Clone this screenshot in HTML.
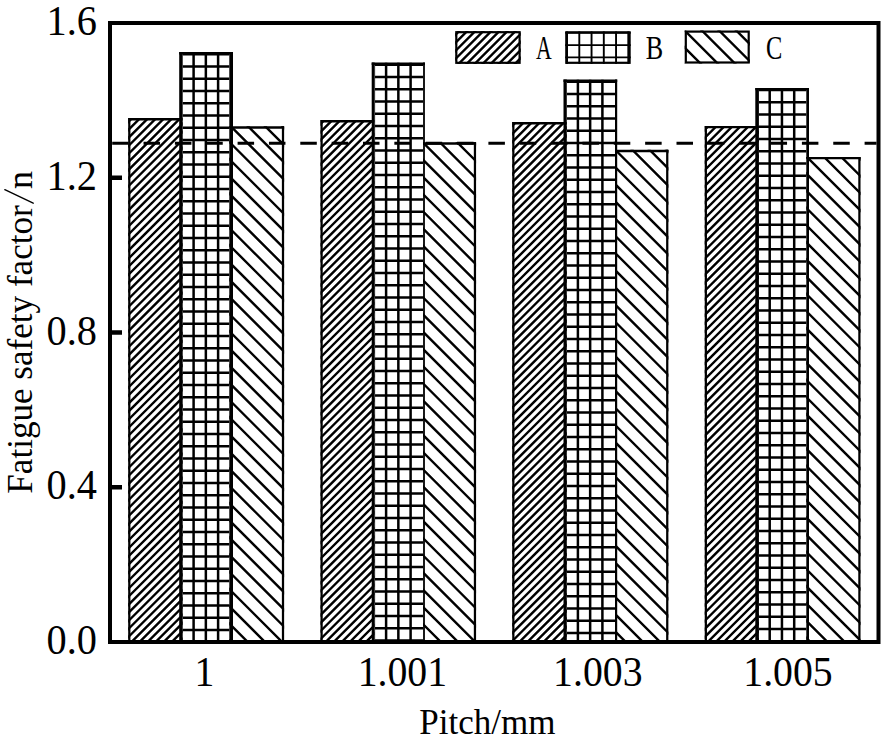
<!DOCTYPE html>
<html><head><meta charset="utf-8"><style>
html,body{margin:0;padding:0;background:#fff;}
body{width:887px;height:740px;overflow:hidden;font-family:"Liberation Serif",serif;}
svg{display:block;}
</style></head><body>
<svg width="887" height="740" viewBox="0 0 887 740">
<rect x="0" y="0" width="887" height="740" fill="#fff"/>
<clipPath id="c0"><rect x="128.18" y="118.10" width="54.42" height="523.90"/></clipPath>
<path clip-path="url(#c0)" d="M-409.88 644.00L118.02 116.10M-401.83 644.00L126.07 116.10M-393.78 644.00L134.12 116.10M-385.73 644.00L142.17 116.10M-377.68 644.00L150.22 116.10M-369.62 644.00L158.28 116.10M-361.58 644.00L166.32 116.10M-353.53 644.00L174.37 116.10M-345.48 644.00L182.42 116.10M-337.43 644.00L190.47 116.10M-329.38 644.00L198.53 116.10M-321.33 644.00L206.57 116.10M-313.28 644.00L214.62 116.10M-305.23 644.00L222.67 116.10M-297.18 644.00L230.72 116.10M-289.12 644.00L238.78 116.10M-281.08 644.00L246.82 116.10M-273.02 644.00L254.88 116.10M-264.98 644.00L262.92 116.10M-256.93 644.00L270.98 116.10M-248.88 644.00L279.02 116.10M-240.83 644.00L287.07 116.10M-232.77 644.00L295.12 116.10M-224.73 644.00L303.17 116.10M-216.68 644.00L311.23 116.10M-208.62 644.00L319.27 116.10M-200.58 644.00L327.32 116.10M-192.52 644.00L335.38 116.10M-184.48 644.00L343.42 116.10M-176.43 644.00L351.48 116.10M-168.38 644.00L359.52 116.10M-160.32 644.00L367.58 116.10M-152.27 644.00L375.62 116.10M-144.23 644.00L383.67 116.10M-136.18 644.00L391.73 116.10M-128.12 644.00L399.77 116.10M-120.08 644.00L407.82 116.10M-112.02 644.00L415.88 116.10M-103.98 644.00L423.92 116.10M-95.92 644.00L431.98 116.10M-87.88 644.00L440.02 116.10M-79.83 644.00L448.07 116.10M-71.77 644.00L456.12 116.10M-63.73 644.00L464.17 116.10M-55.67 644.00L472.23 116.10M-47.62 644.00L480.27 116.10M-39.58 644.00L488.32 116.10M-31.52 644.00L496.38 116.10M-23.47 644.00L504.43 116.10M-15.42 644.00L512.48 116.10M-7.38 644.00L520.52 116.10M0.67 644.00L528.57 116.10M8.73 644.00L536.62 116.10M16.78 644.00L544.68 116.10M24.83 644.00L552.73 116.10M32.88 644.00L560.77 116.10M40.92 644.00L568.82 116.10M48.98 644.00L576.88 116.10M57.03 644.00L584.93 116.10M65.08 644.00L592.98 116.10M73.12 644.00L601.02 116.10M81.17 644.00L609.07 116.10M89.23 644.00L617.12 116.10M97.28 644.00L625.18 116.10M105.33 644.00L633.23 116.10M113.38 644.00L641.27 116.10M121.42 644.00L649.32 116.10M129.48 644.00L657.38 116.10M137.52 644.00L665.42 116.10M145.58 644.00L673.48 116.10M153.62 644.00L681.52 116.10M161.68 644.00L689.58 116.10M169.73 644.00L697.62 116.10M177.77 644.00L705.67 116.10M185.83 644.00L713.73 116.10" stroke="#000" stroke-width="2.40" fill="none"/>
<path d="M128.18 119.32H182.60" stroke="#000" stroke-width="2.45"/>
<clipPath id="c1"><rect x="182.60" y="52.00" width="46.70" height="590.00"/></clipPath>
<path clip-path="url(#c1)" d="M181.35 52.00V642.00M193.60 52.00V642.00M205.85 52.00V642.00M218.10 52.00V642.00M180.60 54.15H231.30M180.60 66.40H231.30M180.60 78.65H231.30M180.60 90.90H231.30M180.60 103.15H231.30M180.60 115.40H231.30M180.60 127.65H231.30M180.60 139.90H231.30M180.60 152.15H231.30M180.60 164.40H231.30M180.60 176.65H231.30M180.60 188.90H231.30M180.60 201.15H231.30M180.60 213.40H231.30M180.60 225.65H231.30M180.60 237.90H231.30M180.60 250.15H231.30M180.60 262.40H231.30M180.60 274.65H231.30M180.60 286.90H231.30M180.60 299.15H231.30M180.60 311.40H231.30M180.60 323.65H231.30M180.60 335.90H231.30M180.60 348.15H231.30M180.60 360.40H231.30M180.60 372.65H231.30M180.60 384.90H231.30M180.60 397.15H231.30M180.60 409.40H231.30M180.60 421.65H231.30M180.60 433.90H231.30M180.60 446.15H231.30M180.60 458.40H231.30M180.60 470.65H231.30M180.60 482.90H231.30M180.60 495.15H231.30M180.60 507.40H231.30M180.60 519.65H231.30M180.60 531.90H231.30M180.60 544.15H231.30M180.60 556.40H231.30M180.60 568.65H231.30M180.60 580.90H231.30M180.60 593.15H231.30M180.60 605.40H231.30M180.60 617.65H231.30M180.60 629.90H231.30M180.60 642.15H231.30" stroke="#000" stroke-width="2.50" fill="none"/>
<path d="M179.20 53.23H233.00" stroke="#000" stroke-width="2.45"/>
<clipPath id="c2"><rect x="229.30" y="126.30" width="54.82" height="515.70"/></clipPath>
<path clip-path="url(#c2)" d="M-321.55 124.30L198.15 644.00M-304.35 124.30L215.35 644.00M-287.15 124.30L232.55 644.00M-269.95 124.30L249.75 644.00M-252.75 124.30L266.95 644.00M-235.55 124.30L284.15 644.00M-218.35 124.30L301.35 644.00M-201.15 124.30L318.55 644.00M-183.95 124.30L335.75 644.00M-166.75 124.30L352.95 644.00M-149.55 124.30L370.15 644.00M-132.35 124.30L387.35 644.00M-115.15 124.30L404.55 644.00M-97.95 124.30L421.75 644.00M-80.75 124.30L438.95 644.00M-63.55 124.30L456.15 644.00M-46.35 124.30L473.35 644.00M-29.15 124.30L490.55 644.00M-11.95 124.30L507.75 644.00M5.25 124.30L524.95 644.00M22.45 124.30L542.15 644.00M39.65 124.30L559.35 644.00M56.85 124.30L576.55 644.00M74.05 124.30L593.75 644.00M91.25 124.30L610.95 644.00M108.45 124.30L628.15 644.00M125.65 124.30L645.35 644.00M142.85 124.30L662.55 644.00M160.05 124.30L679.75 644.00M177.25 124.30L696.95 644.00M194.45 124.30L714.15 644.00M211.65 124.30L731.35 644.00M228.85 124.30L748.55 644.00M246.05 124.30L765.75 644.00M263.25 124.30L782.95 644.00M280.45 124.30L800.15 644.00M297.65 124.30L817.35 644.00" stroke="#000" stroke-width="2.40" fill="none"/>
<path d="M229.30 127.52H284.12" stroke="#000" stroke-width="2.45"/>
<path d="M129.30 118.10V642.00" stroke="#000" stroke-width="2.25"/>
<path d="M180.90 52.00V642.00" stroke="#000" stroke-width="3.40"/>
<path d="M231.15 52.00V642.00" stroke="#000" stroke-width="3.70"/>
<path d="M283.00 126.30V642.00" stroke="#000" stroke-width="2.25"/>
<clipPath id="c3"><rect x="320.48" y="120.00" width="53.93" height="522.00"/></clipPath>
<path clip-path="url(#c3)" d="M-215.67 644.00L310.33 118.00M-207.62 644.00L318.38 118.00M-199.57 644.00L326.43 118.00M-191.52 644.00L334.48 118.00M-183.47 644.00L342.53 118.00M-175.42 644.00L350.58 118.00M-167.38 644.00L358.62 118.00M-159.32 644.00L366.68 118.00M-151.27 644.00L374.73 118.00M-143.22 644.00L382.78 118.00M-135.17 644.00L390.83 118.00M-127.12 644.00L398.88 118.00M-119.07 644.00L406.93 118.00M-111.02 644.00L414.98 118.00M-102.97 644.00L423.03 118.00M-94.92 644.00L431.08 118.00M-86.88 644.00L439.12 118.00M-78.82 644.00L447.18 118.00M-70.77 644.00L455.23 118.00M-62.72 644.00L463.28 118.00M-54.67 644.00L471.33 118.00M-46.62 644.00L479.38 118.00M-38.57 644.00L487.43 118.00M-30.52 644.00L495.48 118.00M-22.47 644.00L503.53 118.00M-14.42 644.00L511.58 118.00M-6.38 644.00L519.62 118.00M1.68 644.00L527.68 118.00M9.73 644.00L535.73 118.00M17.78 644.00L543.78 118.00M25.83 644.00L551.83 118.00M33.88 644.00L559.88 118.00M41.93 644.00L567.93 118.00M49.98 644.00L575.98 118.00M58.03 644.00L584.03 118.00M66.08 644.00L592.08 118.00M74.12 644.00L600.12 118.00M82.18 644.00L608.18 118.00M90.23 644.00L616.23 118.00M98.28 644.00L624.28 118.00M106.33 644.00L632.33 118.00M114.38 644.00L640.38 118.00M122.43 644.00L648.43 118.00M130.48 644.00L656.48 118.00M138.53 644.00L664.53 118.00M146.58 644.00L672.58 118.00M154.62 644.00L680.62 118.00M162.68 644.00L688.68 118.00M170.73 644.00L696.73 118.00M178.78 644.00L704.78 118.00M186.83 644.00L712.83 118.00M194.88 644.00L720.88 118.00M202.93 644.00L728.93 118.00M210.98 644.00L736.98 118.00M219.03 644.00L745.03 118.00M227.08 644.00L753.08 118.00M235.12 644.00L761.12 118.00M243.18 644.00L769.18 118.00M251.23 644.00L777.23 118.00M259.28 644.00L785.28 118.00M267.33 644.00L793.33 118.00M275.38 644.00L801.38 118.00M283.43 644.00L809.43 118.00M291.48 644.00L817.48 118.00M299.53 644.00L825.53 118.00M307.58 644.00L833.58 118.00M315.62 644.00L841.62 118.00M323.68 644.00L849.68 118.00M331.73 644.00L857.73 118.00M339.78 644.00L865.78 118.00M347.83 644.00L873.83 118.00M355.88 644.00L881.88 118.00M363.93 644.00L889.93 118.00M371.98 644.00L897.98 118.00M380.03 644.00L906.03 118.00" stroke="#000" stroke-width="2.40" fill="none"/>
<path d="M320.48 121.22H374.40" stroke="#000" stroke-width="2.45"/>
<clipPath id="c4"><rect x="374.40" y="62.50" width="48.70" height="579.50"/></clipPath>
<path clip-path="url(#c4)" d="M373.85 62.50V642.00M386.10 62.50V642.00M398.35 62.50V642.00M410.60 62.50V642.00M372.40 64.65H425.10M372.40 76.90H425.10M372.40 89.15H425.10M372.40 101.40H425.10M372.40 113.65H425.10M372.40 125.90H425.10M372.40 138.15H425.10M372.40 150.40H425.10M372.40 162.65H425.10M372.40 174.90H425.10M372.40 187.15H425.10M372.40 199.40H425.10M372.40 211.65H425.10M372.40 223.90H425.10M372.40 236.15H425.10M372.40 248.40H425.10M372.40 260.65H425.10M372.40 272.90H425.10M372.40 285.15H425.10M372.40 297.40H425.10M372.40 309.65H425.10M372.40 321.90H425.10M372.40 334.15H425.10M372.40 346.40H425.10M372.40 358.65H425.10M372.40 370.90H425.10M372.40 383.15H425.10M372.40 395.40H425.10M372.40 407.65H425.10M372.40 419.90H425.10M372.40 432.15H425.10M372.40 444.40H425.10M372.40 456.65H425.10M372.40 468.90H425.10M372.40 481.15H425.10M372.40 493.40H425.10M372.40 505.65H425.10M372.40 517.90H425.10M372.40 530.15H425.10M372.40 542.40H425.10M372.40 554.65H425.10M372.40 566.90H425.10M372.40 579.15H425.10M372.40 591.40H425.10M372.40 603.65H425.10M372.40 615.90H425.10M372.40 628.15H425.10M372.40 640.40H425.10" stroke="#000" stroke-width="2.50" fill="none"/>
<path d="M371.70 63.73H424.90" stroke="#000" stroke-width="2.45"/>
<clipPath id="c5"><rect x="423.10" y="142.30" width="52.97" height="499.70"/></clipPath>
<path clip-path="url(#c5)" d="M-112.45 140.30L391.25 644.00M-95.25 140.30L408.45 644.00M-78.05 140.30L425.65 644.00M-60.85 140.30L442.85 644.00M-43.65 140.30L460.05 644.00M-26.45 140.30L477.25 644.00M-9.25 140.30L494.45 644.00M7.95 140.30L511.65 644.00M25.15 140.30L528.85 644.00M42.35 140.30L546.05 644.00M59.55 140.30L563.25 644.00M76.75 140.30L580.45 644.00M93.95 140.30L597.65 644.00M111.15 140.30L614.85 644.00M128.35 140.30L632.05 644.00M145.55 140.30L649.25 644.00M162.75 140.30L666.45 644.00M179.95 140.30L683.65 644.00M197.15 140.30L700.85 644.00M214.35 140.30L718.05 644.00M231.55 140.30L735.25 644.00M248.75 140.30L752.45 644.00M265.95 140.30L769.65 644.00M283.15 140.30L786.85 644.00M300.35 140.30L804.05 644.00M317.55 140.30L821.25 644.00M334.75 140.30L838.45 644.00M351.95 140.30L855.65 644.00M369.15 140.30L872.85 644.00M386.35 140.30L890.05 644.00M403.55 140.30L907.25 644.00M420.75 140.30L924.45 644.00M437.95 140.30L941.65 644.00M455.15 140.30L958.85 644.00M472.35 140.30L976.05 644.00M489.55 140.30L993.25 644.00" stroke="#000" stroke-width="2.40" fill="none"/>
<path d="M423.10 143.53H476.07" stroke="#000" stroke-width="2.45"/>
<path d="M321.60 120.00V642.00" stroke="#000" stroke-width="2.25"/>
<path d="M373.05 62.50V642.00" stroke="#000" stroke-width="2.70"/>
<path d="M424.00 62.50V642.00" stroke="#000" stroke-width="1.80"/>
<path d="M474.95 142.30V642.00" stroke="#000" stroke-width="2.25"/>
<clipPath id="c6"><rect x="512.23" y="121.95" width="54.48" height="520.05"/></clipPath>
<path clip-path="url(#c6)" d="M-21.97 644.00L502.08 119.95M-13.92 644.00L510.13 119.95M-5.87 644.00L518.18 119.95M2.18 644.00L526.23 119.95M10.23 644.00L534.27 119.95M18.28 644.00L542.33 119.95M26.33 644.00L550.38 119.95M34.38 644.00L558.43 119.95M42.43 644.00L566.48 119.95M50.48 644.00L574.52 119.95M58.53 644.00L582.58 119.95M66.58 644.00L590.62 119.95M74.63 644.00L598.68 119.95M82.68 644.00L606.73 119.95M90.73 644.00L614.78 119.95M98.78 644.00L622.83 119.95M106.83 644.00L630.88 119.95M114.88 644.00L638.93 119.95M122.93 644.00L646.98 119.95M130.98 644.00L655.03 119.95M139.03 644.00L663.08 119.95M147.08 644.00L671.12 119.95M155.13 644.00L679.18 119.95M163.18 644.00L687.23 119.95M171.23 644.00L695.28 119.95M179.28 644.00L703.33 119.95M187.33 644.00L711.38 119.95M195.38 644.00L719.43 119.95M203.43 644.00L727.48 119.95M211.48 644.00L735.53 119.95M219.53 644.00L743.58 119.95M227.58 644.00L751.62 119.95M235.63 644.00L759.68 119.95M243.68 644.00L767.73 119.95M251.73 644.00L775.78 119.95M259.78 644.00L783.83 119.95M267.83 644.00L791.88 119.95M275.88 644.00L799.93 119.95M283.93 644.00L807.98 119.95M291.98 644.00L816.03 119.95M300.03 644.00L824.08 119.95M308.08 644.00L832.12 119.95M316.13 644.00L840.18 119.95M324.18 644.00L848.23 119.95M332.23 644.00L856.28 119.95M340.28 644.00L864.33 119.95M348.33 644.00L872.38 119.95M356.38 644.00L880.43 119.95M364.43 644.00L888.48 119.95M372.48 644.00L896.53 119.95M380.53 644.00L904.58 119.95M388.58 644.00L912.62 119.95M396.62 644.00L920.67 119.95M404.68 644.00L928.73 119.95M412.73 644.00L936.78 119.95M420.78 644.00L944.83 119.95M428.83 644.00L952.88 119.95M436.88 644.00L960.92 119.95M444.93 644.00L968.98 119.95M452.98 644.00L977.03 119.95M461.03 644.00L985.08 119.95M469.08 644.00L993.12 119.95M477.12 644.00L1001.17 119.95M485.18 644.00L1009.23 119.95M493.23 644.00L1017.28 119.95M501.28 644.00L1025.33 119.95M509.33 644.00L1033.38 119.95M517.38 644.00L1041.42 119.95M525.43 644.00L1049.48 119.95M533.48 644.00L1057.53 119.95M541.53 644.00L1065.58 119.95M549.58 644.00L1073.63 119.95M557.62 644.00L1081.67 119.95M565.68 644.00L1089.73 119.95" stroke="#000" stroke-width="2.40" fill="none"/>
<path d="M512.23 123.17H566.70" stroke="#000" stroke-width="2.45"/>
<clipPath id="c7"><rect x="566.70" y="79.50" width="48.30" height="562.50"/></clipPath>
<path clip-path="url(#c7)" d="M565.65 79.50V642.00M577.90 79.50V642.00M590.15 79.50V642.00M602.40 79.50V642.00M564.70 81.65H617.00M564.70 93.90H617.00M564.70 106.15H617.00M564.70 118.40H617.00M564.70 130.65H617.00M564.70 142.90H617.00M564.70 155.15H617.00M564.70 167.40H617.00M564.70 179.65H617.00M564.70 191.90H617.00M564.70 204.15H617.00M564.70 216.40H617.00M564.70 228.65H617.00M564.70 240.90H617.00M564.70 253.15H617.00M564.70 265.40H617.00M564.70 277.65H617.00M564.70 289.90H617.00M564.70 302.15H617.00M564.70 314.40H617.00M564.70 326.65H617.00M564.70 338.90H617.00M564.70 351.15H617.00M564.70 363.40H617.00M564.70 375.65H617.00M564.70 387.90H617.00M564.70 400.15H617.00M564.70 412.40H617.00M564.70 424.65H617.00M564.70 436.90H617.00M564.70 449.15H617.00M564.70 461.40H617.00M564.70 473.65H617.00M564.70 485.90H617.00M564.70 498.15H617.00M564.70 510.40H617.00M564.70 522.65H617.00M564.70 534.90H617.00M564.70 547.15H617.00M564.70 559.40H617.00M564.70 571.65H617.00M564.70 583.90H617.00M564.70 596.15H617.00M564.70 608.40H617.00M564.70 620.65H617.00M564.70 632.90H617.00" stroke="#000" stroke-width="2.50" fill="none"/>
<path d="M563.50 80.72H617.20" stroke="#000" stroke-width="2.45"/>
<clipPath id="c8"><rect x="615.00" y="149.70" width="53.38" height="492.30"/></clipPath>
<path clip-path="url(#c8)" d="M97.05 147.70L593.35 644.00M114.25 147.70L610.55 644.00M131.45 147.70L627.75 644.00M148.65 147.70L644.95 644.00M165.85 147.70L662.15 644.00M183.05 147.70L679.35 644.00M200.25 147.70L696.55 644.00M217.45 147.70L713.75 644.00M234.65 147.70L730.95 644.00M251.85 147.70L748.15 644.00M269.05 147.70L765.35 644.00M286.25 147.70L782.55 644.00M303.45 147.70L799.75 644.00M320.65 147.70L816.95 644.00M337.85 147.70L834.15 644.00M355.05 147.70L851.35 644.00M372.25 147.70L868.55 644.00M389.45 147.70L885.75 644.00M406.65 147.70L902.95 644.00M423.85 147.70L920.15 644.00M441.05 147.70L937.35 644.00M458.25 147.70L954.55 644.00M475.45 147.70L971.75 644.00M492.65 147.70L988.95 644.00M509.85 147.70L1006.15 644.00M527.05 147.70L1023.35 644.00M544.25 147.70L1040.55 644.00M561.45 147.70L1057.75 644.00M578.65 147.70L1074.95 644.00M595.85 147.70L1092.15 644.00M613.05 147.70L1109.35 644.00M630.25 147.70L1126.55 644.00M647.45 147.70L1143.75 644.00M664.65 147.70L1160.95 644.00M681.85 147.70L1178.15 644.00" stroke="#000" stroke-width="2.40" fill="none"/>
<path d="M615.00 150.92H668.38" stroke="#000" stroke-width="2.45"/>
<path d="M513.35 121.95V642.00" stroke="#000" stroke-width="2.25"/>
<path d="M565.10 79.50V642.00" stroke="#000" stroke-width="3.20"/>
<path d="M616.10 79.50V642.00" stroke="#000" stroke-width="2.20"/>
<path d="M667.25 149.70V642.00" stroke="#000" stroke-width="2.25"/>
<clipPath id="c9"><rect x="704.73" y="125.90" width="54.17" height="516.10"/></clipPath>
<path clip-path="url(#c9)" d="M174.48 644.00L694.58 123.90M182.52 644.00L702.62 123.90M190.58 644.00L710.68 123.90M198.62 644.00L718.73 123.90M206.67 644.00L726.77 123.90M214.73 644.00L734.83 123.90M222.77 644.00L742.88 123.90M230.83 644.00L750.93 123.90M238.88 644.00L758.98 123.90M246.92 644.00L767.02 123.90M254.98 644.00L775.08 123.90M263.02 644.00L783.12 123.90M271.08 644.00L791.18 123.90M279.12 644.00L799.23 123.90M287.17 644.00L807.27 123.90M295.23 644.00L815.33 123.90M303.27 644.00L823.38 123.90M311.33 644.00L831.43 123.90M319.38 644.00L839.48 123.90M327.42 644.00L847.52 123.90M335.48 644.00L855.58 123.90M343.52 644.00L863.62 123.90M351.58 644.00L871.68 123.90M359.62 644.00L879.73 123.90M367.67 644.00L887.77 123.90M375.73 644.00L895.83 123.90M383.78 644.00L903.88 123.90M391.83 644.00L911.93 123.90M399.88 644.00L919.98 123.90M407.92 644.00L928.02 123.90M415.97 644.00L936.07 123.90M424.03 644.00L944.13 123.90M432.08 644.00L952.18 123.90M440.12 644.00L960.23 123.90M448.17 644.00L968.27 123.90M456.22 644.00L976.32 123.90M464.28 644.00L984.38 123.90M472.33 644.00L992.43 123.90M480.38 644.00L1000.48 123.90M488.42 644.00L1008.52 123.90M496.47 644.00L1016.57 123.90M504.53 644.00L1024.62 123.90M512.58 644.00L1032.67 123.90M520.62 644.00L1040.72 123.90M528.67 644.00L1048.77 123.90M536.72 644.00L1056.82 123.90M544.78 644.00L1064.88 123.90M552.83 644.00L1072.92 123.90M560.88 644.00L1080.97 123.90M568.92 644.00L1089.02 123.90M576.97 644.00L1097.07 123.90M585.03 644.00L1105.12 123.90M593.08 644.00L1113.17 123.90M601.12 644.00L1121.22 123.90M609.17 644.00L1129.27 123.90M617.22 644.00L1137.32 123.90M625.28 644.00L1145.38 123.90M633.33 644.00L1153.42 123.90M641.38 644.00L1161.47 123.90M649.43 644.00L1169.53 123.90M657.47 644.00L1177.57 123.90M665.53 644.00L1185.62 123.90M673.58 644.00L1193.67 123.90M681.62 644.00L1201.72 123.90M689.68 644.00L1209.78 123.90M697.72 644.00L1217.82 123.90M705.78 644.00L1225.88 123.90M713.83 644.00L1233.92 123.90M721.88 644.00L1241.97 123.90M729.93 644.00L1250.03 123.90M737.97 644.00L1258.07 123.90M746.03 644.00L1266.12 123.90M754.08 644.00L1274.17 123.90M762.12 644.00L1282.22 123.90" stroke="#000" stroke-width="2.40" fill="none"/>
<path d="M704.73 127.12H758.90" stroke="#000" stroke-width="2.45"/>
<clipPath id="c10"><rect x="758.90" y="87.90" width="47.40" height="554.10"/></clipPath>
<path clip-path="url(#c10)" d="M757.45 87.90V642.00M769.70 87.90V642.00M781.95 87.90V642.00M794.20 87.90V642.00M756.90 90.05H808.30M756.90 102.30H808.30M756.90 114.55H808.30M756.90 126.80H808.30M756.90 139.05H808.30M756.90 151.30H808.30M756.90 163.55H808.30M756.90 175.80H808.30M756.90 188.05H808.30M756.90 200.30H808.30M756.90 212.55H808.30M756.90 224.80H808.30M756.90 237.05H808.30M756.90 249.30H808.30M756.90 261.55H808.30M756.90 273.80H808.30M756.90 286.05H808.30M756.90 298.30H808.30M756.90 310.55H808.30M756.90 322.80H808.30M756.90 335.05H808.30M756.90 347.30H808.30M756.90 359.55H808.30M756.90 371.80H808.30M756.90 384.05H808.30M756.90 396.30H808.30M756.90 408.55H808.30M756.90 420.80H808.30M756.90 433.05H808.30M756.90 445.30H808.30M756.90 457.55H808.30M756.90 469.80H808.30M756.90 482.05H808.30M756.90 494.30H808.30M756.90 506.55H808.30M756.90 518.80H808.30M756.90 531.05H808.30M756.90 543.30H808.30M756.90 555.55H808.30M756.90 567.80H808.30M756.90 580.05H808.30M756.90 592.30H808.30M756.90 604.55H808.30M756.90 616.80H808.30M756.90 629.05H808.30M756.90 641.30H808.30" stroke="#000" stroke-width="2.50" fill="none"/>
<path d="M755.30 89.12H809.00" stroke="#000" stroke-width="2.45"/>
<clipPath id="c11"><rect x="806.30" y="156.90" width="54.23" height="485.10"/></clipPath>
<path clip-path="url(#c11)" d="M288.85 154.90L777.95 644.00M306.05 154.90L795.15 644.00M323.25 154.90L812.35 644.00M340.45 154.90L829.55 644.00M357.65 154.90L846.75 644.00M374.85 154.90L863.95 644.00M392.05 154.90L881.15 644.00M409.25 154.90L898.35 644.00M426.45 154.90L915.55 644.00M443.65 154.90L932.75 644.00M460.85 154.90L949.95 644.00M478.05 154.90L967.15 644.00M495.25 154.90L984.35 644.00M512.45 154.90L1001.55 644.00M529.65 154.90L1018.75 644.00M546.85 154.90L1035.95 644.00M564.05 154.90L1053.15 644.00M581.25 154.90L1070.35 644.00M598.45 154.90L1087.55 644.00M615.65 154.90L1104.75 644.00M632.85 154.90L1121.95 644.00M650.05 154.90L1139.15 644.00M667.25 154.90L1156.35 644.00M684.45 154.90L1173.55 644.00M701.65 154.90L1190.75 644.00M718.85 154.90L1207.95 644.00M736.05 154.90L1225.15 644.00M753.25 154.90L1242.35 644.00M770.45 154.90L1259.55 644.00M787.65 154.90L1276.75 644.00M804.85 154.90L1293.95 644.00M822.05 154.90L1311.15 644.00M839.25 154.90L1328.35 644.00M856.45 154.90L1345.55 644.00M873.65 154.90L1362.75 644.00" stroke="#000" stroke-width="2.40" fill="none"/>
<path d="M806.30 158.12H860.52" stroke="#000" stroke-width="2.45"/>
<path d="M705.85 125.90V642.00" stroke="#000" stroke-width="2.25"/>
<path d="M757.10 87.90V642.00" stroke="#000" stroke-width="3.60"/>
<path d="M807.65 87.90V642.00" stroke="#000" stroke-width="2.70"/>
<path d="M859.40 156.90V642.00" stroke="#000" stroke-width="2.25"/>
<path d="M112.2 143.3H876.5" stroke="#000" stroke-width="3" stroke-dasharray="16.5 14.85"/>
<rect x="110.00" y="23.00" width="768.50" height="619.00" fill="none" stroke="#000" stroke-width="4.00"/>
<path d="M108.00 177.75H122" stroke="#000" stroke-width="4.5"/>
<path d="M108.00 332.50H122" stroke="#000" stroke-width="4.5"/>
<path d="M108.00 487.25H122" stroke="#000" stroke-width="4.5"/>
<clipPath id="c12"><rect x="455.20" y="31.10" width="65.50" height="32.80"/></clipPath>
<path clip-path="url(#c12)" d="M408.25 65.90L445.05 29.10M416.30 65.90L453.10 29.10M424.35 65.90L461.15 29.10M432.40 65.90L469.20 29.10M440.45 65.90L477.25 29.10M448.50 65.90L485.30 29.10M456.55 65.90L493.35 29.10M464.60 65.90L501.40 29.10M472.65 65.90L509.45 29.10M480.70 65.90L517.50 29.10M488.75 65.90L525.55 29.10M496.80 65.90L533.60 29.10M504.85 65.90L541.65 29.10M512.90 65.90L549.70 29.10M520.95 65.90L557.75 29.10" stroke="#000" stroke-width="2.40" fill="none"/>
<rect x="456.30" y="32.20" width="63.30" height="30.60" fill="none" stroke="#000" stroke-width="2.2"/>
<clipPath id="c13"><rect x="565.20" y="31.20" width="65.50" height="32.70"/></clipPath>
<path clip-path="url(#c13)" d="M567.05 31.20V63.90M579.30 31.20V63.90M591.55 31.20V63.90M603.80 31.20V63.90M616.05 31.20V63.90M628.30 31.20V63.90M563.20 32.85H632.70M563.20 45.10H632.70M563.20 57.35H632.70" stroke="#000" stroke-width="1.90" fill="none"/>
<rect x="566.30" y="32.30" width="63.30" height="30.50" fill="none" stroke="#000" stroke-width="2.2"/>
<clipPath id="c14"><rect x="684.70" y="30.50" width="65.10" height="33.10"/></clipPath>
<path clip-path="url(#c14)" d="M631.10 28.50L668.20 65.60M648.30 28.50L685.40 65.60M665.50 28.50L702.60 65.60M682.70 28.50L719.80 65.60M699.90 28.50L737.00 65.60M717.10 28.50L754.20 65.60M734.30 28.50L771.40 65.60M751.50 28.50L788.60 65.60" stroke="#000" stroke-width="2.40" fill="none"/>
<rect x="685.80" y="31.60" width="62.90" height="30.90" fill="none" stroke="#000" stroke-width="2.2"/>
<text font-family="'Liberation Serif', serif" font-size="33.5" transform="translate(536.40 58.5) scale(0.650 1)" x="-0.5" y="0">A</text>
<text font-family="'Liberation Serif', serif" font-size="33.5" transform="translate(646.20 58.5) scale(0.780 1)" x="-0.5" y="0">B</text>
<text font-family="'Liberation Serif', serif" font-size="33.5" transform="translate(766.30 58.5) scale(0.730 1)" x="-0.5" y="0">C</text>
<text font-family="'Liberation Serif', serif" font-size="42.5" text-anchor="end" transform="translate(97.0 35.20) scale(0.950 1)">1.6</text>
<text font-family="'Liberation Serif', serif" font-size="42.5" text-anchor="end" transform="translate(97.0 189.95) scale(0.950 1)">1.2</text>
<text font-family="'Liberation Serif', serif" font-size="42.5" text-anchor="end" transform="translate(97.0 344.70) scale(0.950 1)">0.8</text>
<text font-family="'Liberation Serif', serif" font-size="42.5" text-anchor="end" transform="translate(97.0 499.45) scale(0.950 1)">0.4</text>
<text font-family="'Liberation Serif', serif" font-size="42.5" text-anchor="end" transform="translate(97.0 654.20) scale(0.950 1)">0.0</text>
<text font-family="'Liberation Serif', serif" font-size="42.5" text-anchor="middle" transform="translate(204.50 685.6) scale(0.935 1)">1</text>
<text font-family="'Liberation Serif', serif" font-size="42.5" text-anchor="middle" transform="translate(402.40 685.6) scale(0.935 1)">1.001</text>
<text font-family="'Liberation Serif', serif" font-size="42.5" text-anchor="middle" transform="translate(597.80 685.6) scale(0.935 1)">1.003</text>
<text font-family="'Liberation Serif', serif" font-size="42.5" text-anchor="middle" transform="translate(788.00 685.6) scale(0.935 1)">1.005</text>
<text font-family="'Liberation Serif', serif" font-size="35" x="419.3" y="734">Pitch/mm</text>
<text font-family="'Liberation Serif', serif" font-size="36" transform="translate(31.8 493.7) rotate(-90) scale(0.975 1)">Fatigue safety factor</text>
<text font-family="'Liberation Serif', serif" font-size="36" transform="translate(31.8 189.0) rotate(-90)">n</text>
<path d="M4.8 189.7L33.2 203.2" stroke="#000" stroke-width="1.4" stroke-linecap="round"/>
</svg>
</body></html>
